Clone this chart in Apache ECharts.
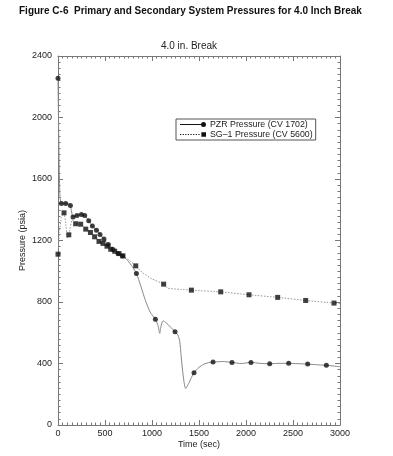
<!DOCTYPE html>
<html>
<head>
<meta charset="utf-8">
<script src="https://cdn.jsdelivr.net/npm/echarts@6/dist/echarts.min.js"></script>
<style>
html,body{margin:0;padding:0;background:#fff;}
#c{width:393px;height:456px;}
</style>
</head>
<body>
<div id="c"></div>
<script>
// ---- data ----
var xTicks = [0, 500, 1000, 1500, 2000, 2500, 3000];
var yTicks = [0, 400, 800, 1200, 1600, 2000, 2400];

var pzrCurveT = [0,5,12,20,30,36,82,120,132,145,160,202,249,284,327,366,409,447,489,536,585,638,685,740,790,834,880,930,980,1036,1065,1082,1095,1117,1150,1200,1245,1275,1295,1310,1330,1358,1390,1420,1447,1500,1550,1600,1649,1750,1851,1950,2053,2150,2252,2350,2454,2550,2656,2750,2855,3000];
var pzrCurveP = [2255,2000,1700,1500,1445,1441,1441,1435,1428,1385,1353,1363,1369,1363,1328,1295,1267,1239,1209,1174,1142,1116,1100,1070,1030,986,905,810,735,687,645,596,640,678,665,635,606,585,545,450,330,238,270,310,340,375,395,405,409,413,407,400,407,401,398,401,401,399,396,392,388,379];
var pzrMarkT = [0,36,82,132,160,202,249,284,327,366,409,447,489,536,585,638,685,834,1036,1245,1447,1649,1851,2053,2252,2454,2656,2855];
var pzrMarkP = [2255,1441,1441,1428,1353,1363,1369,1363,1328,1295,1267,1239,1209,1174,1142,1116,1100,986,687,606,340,409,407,407,398,401,396,388];

var sgCurveT = [0,15,35,64,85,100,115,150,188,241,295,345,390,436,479,521,561,603,649,691,760,827,900,1000,1124,1165,1300,1419,1731,2032,2337,2635,2936,3000];
var sgCurveP = [1111,1250,1350,1380,1300,1215,1237,1335,1309,1306,1274,1252,1224,1194,1181,1163,1143,1130,1115,1100,1070,1035,990,950,916,890,882,877,866,847,830,810,793,790];
var sgMarkT = [0,64,115,188,241,295,345,390,436,479,521,561,603,649,691,827,1124,1419,1731,2032,2337,2635,2936];
var sgMarkP = [1111,1380,1237,1309,1306,1274,1252,1224,1194,1181,1163,1143,1130,1115,1100,1035,916,877,866,847,830,810,793];

var seriesNames = ['PZR Pressure (CV 1702)', 'SG\u20131 Pressure (CV 5600)'];

function zip(a, b) { return a.map(function (v, i) { return [v, b[i]]; }); }

var chart = echarts.init(document.getElementById('c'), null, {renderer: 'canvas'});
var font = 'Liberation Sans, Arial, Helvetica, sans-serif';
var axisCol = '#777';

function xAx(pos, show) {
  return {
    type: 'value', position: pos, min: 0, max: 3000, interval: 500,
    axisLine: {show: true, onZero: false, lineStyle: {color: axisCol, width: 1}},
    axisTick: {show: true, inside: true, length: 5, lineStyle: {color: axisCol}},
    minorTick: {show: true, splitNumber: 10, length: 2.5, lineStyle: {color: axisCol}},
    splitLine: {show: false},
    axisLabel: {show: show, color: '#222', fontSize: 9, fontFamily: font, margin: 4,
      formatter: function (v) { return String(v); }},
    name: show ? 'Time (sec)' : '', nameLocation: 'middle', nameGap: 15, nameMoveOverlap: false,
    nameTextStyle: {color: '#222', fontSize: 9, fontFamily: font}
  };
}
function yAx(pos, show) {
  return {
    type: 'value', position: pos, min: 0, max: 2400, interval: 400,
    axisLine: {show: true, onZero: false, lineStyle: {color: axisCol, width: 1}},
    axisTick: {show: true, inside: true, length: 5, lineStyle: {color: axisCol}},
    minorTick: {show: true, splitNumber: 10, length: 2.5, lineStyle: {color: axisCol}},
    splitLine: {show: false},
    axisLabel: {show: show, color: '#222', fontSize: 9, fontFamily: font, margin: 6,
      formatter: function (v) { return String(v); }},
    name: show ? 'Pressure (psia)' : '', nameLocation: 'middle', nameGap: 31, nameMoveOverlap: false,
    nameTextStyle: {color: '#222', fontSize: 9, fontFamily: font}
  };
}

var pzrIcon = 'path://M0,2.1 L21,2.1 L21,2.9 L0,2.9 Z M21,2.5 A2.5,2.5 0 1,0 26,2.5 A2.5,2.5 0 1,0 21,2.5 Z';
var sgIcon = 'path://M0,2.1 h1.2 v0.8 h-1.2 Z M2.6,2.1 h1.2 v0.8 h-1.2 Z M5.2,2.1 h1.2 v0.8 h-1.2 Z M7.8,2.1 h1.2 v0.8 h-1.2 Z M10.4,2.1 h1.2 v0.8 h-1.2 Z M13,2.1 h1.2 v0.8 h-1.2 Z M15.6,2.1 h1.2 v0.8 h-1.2 Z M18.2,2.1 h1.2 v0.8 h-1.2 Z M21.2,0.2 h4.6 v4.6 h-4.6 Z';

chart.setOption({
  backgroundColor: '#fff',
  animation: false,
  title: [
    {text: 'Figure C-6  Primary and Secondary System Pressures for 4.0 Inch Break', left: 14, top: 1,
     textStyle: {fontSize: 10, fontWeight: 'bold', color: '#111', fontFamily: font}},
    {text: '4.0 in. Break', left: 184, top: 36, textAlign: 'center',
     textStyle: {fontSize: 10, fontWeight: 'normal', color: '#222', fontFamily: font}}
  ],
  grid: {left: 58, right: 53, top: 56, bottom: 31, containLabel: false},
  xAxis: [xAx('bottom', true), xAx('top', false)],
  yAxis: [yAx('left', true), yAx('right', false)],
  legend: {
    orient: 'vertical', left: 176, top: 119, itemGap: 1,
    itemWidth: 26, itemHeight: 5,
    padding: [1, 3, 1, 4],
    borderColor: '#555', borderWidth: 1, backgroundColor: '#fff',
    textStyle: {fontSize: 8.8, color: '#222', fontFamily: font, padding: [0, 0, 0, -1]},
    data: [
      {name: seriesNames[0], icon: pzrIcon, itemStyle: {color: '#111'}},
      {name: seriesNames[1], icon: sgIcon, itemStyle: {color: '#111'}}
    ]
  },
  series: [
    {name: seriesNames[0], type: 'line', data: zip(pzrCurveT, pzrCurveP), showSymbol: false, symbol: 'none',
     smooth: 0.25, lineStyle: {color: '#888', width: 1}, itemStyle: {color: '#111'}, z: 2},
    {name: seriesNames[1], type: 'line', data: zip(sgCurveT, sgCurveP), showSymbol: false, symbol: 'none',
     smooth: 0.1, lineStyle: {color: '#999', width: 1, type: [1.5, 1.5]}, itemStyle: {color: '#111'}, z: 2},
    {name: seriesNames[0], type: 'scatter', data: zip(pzrMarkT, pzrMarkP), symbol: 'circle', symbolSize: 5,
     itemStyle: {color: '#111'}, z: 3},
    {name: seriesNames[1], type: 'scatter', data: zip(sgMarkT, sgMarkP), symbol: 'rect', symbolSize: 5,
     itemStyle: {color: '#111'}, z: 3}
  ]
});
</script>
</body>
</html>
